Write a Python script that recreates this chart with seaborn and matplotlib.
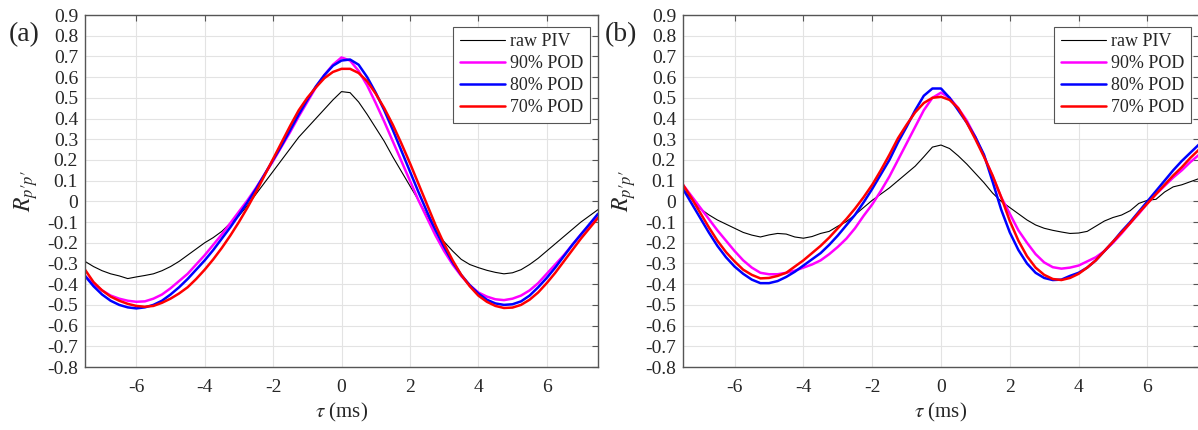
import numpy as np
import pandas as pd
import seaborn as sns
import matplotlib.pyplot as plt

# time lag grid (ms)
tau = [-7.5, -7.25, -7.0, -6.75, -6.5, -6.25, -6.0, -5.75, -5.5, -5.25, -5.0,
       -4.75, -4.5, -4.25, -4.0, -3.75, -3.5, -3.25, -3.0, -2.75, -2.5,
       -2.25, -2.0, -1.75, -1.5, -1.25, -1.0, -0.75, -0.5, -0.25, 0.0,
       0.25, 0.5, 0.75, 1.0, 1.25, 1.5, 1.75, 2.0, 2.25, 2.5,
       2.75, 3.0, 3.25, 3.5, 3.75, 4.0, 4.25, 4.5, 4.75, 5.0,
       5.25, 5.5, 5.75, 6.0, 6.25, 6.5, 6.75, 7.0, 7.25, 7.5]

# panel (a)
a_raw = [-0.29, -0.315, -0.335, -0.35, -0.36, -0.373, -0.365, -0.358, -0.35, -0.335, -0.315,
         -0.29, -0.26, -0.23, -0.20, -0.175, -0.145, -0.105, -0.07, -0.02, 0.035,
         0.09, 0.145, 0.20, 0.255, 0.31, 0.355, 0.40, 0.445, 0.49, 0.53,
         0.525, 0.48, 0.42, 0.355, 0.29, 0.215, 0.145, 0.075, 0.005, -0.07,
         -0.14, -0.195, -0.24, -0.28, -0.305, -0.32, -0.333, -0.343, -0.35, -0.345,
         -0.33, -0.305, -0.275, -0.24, -0.205, -0.17, -0.135, -0.10, -0.07, -0.04]
a_90 = [-0.36, -0.40, -0.43, -0.455, -0.47, -0.48, -0.485, -0.483, -0.47, -0.45, -0.42,
        -0.385, -0.35, -0.305, -0.26, -0.21, -0.16, -0.105, -0.05, 0.005, 0.065,
        0.13, 0.195, 0.265, 0.335, 0.41, 0.48, 0.55, 0.61, 0.66, 0.695,
        0.68, 0.63, 0.56, 0.475, 0.385, 0.29, 0.195, 0.10, 0.005, -0.08,
        -0.165, -0.24, -0.305, -0.36, -0.405, -0.44, -0.46, -0.473, -0.477, -0.47,
        -0.455, -0.43, -0.395, -0.35, -0.305, -0.26, -0.21, -0.16, -0.115, -0.07]
a_80 = [-0.36, -0.41, -0.45, -0.48, -0.50, -0.512, -0.517, -0.512, -0.50, -0.48, -0.45,
        -0.415, -0.375, -0.33, -0.285, -0.235, -0.18, -0.125, -0.065, -0.005, 0.06,
        0.13, 0.20, 0.27, 0.345, 0.42, 0.49, 0.555, 0.61, 0.655, 0.68,
        0.685, 0.66, 0.60, 0.525, 0.44, 0.345, 0.245, 0.145, 0.045, -0.05,
        -0.14, -0.22, -0.295, -0.355, -0.405, -0.445, -0.475, -0.493, -0.50, -0.497,
        -0.483, -0.455, -0.415, -0.37, -0.32, -0.265, -0.21, -0.16, -0.11, -0.06]
a_70 = [-0.33, -0.39, -0.43, -0.46, -0.48, -0.495, -0.505, -0.509, -0.505, -0.49, -0.47,
        -0.445, -0.415, -0.375, -0.33, -0.28, -0.225, -0.165, -0.10, -0.03, 0.045,
        0.125, 0.205, 0.285, 0.365, 0.44, 0.50, 0.55, 0.595, 0.625, 0.64,
        0.64, 0.62, 0.58, 0.52, 0.45, 0.37, 0.28, 0.185, 0.085, -0.015,
        -0.115, -0.205, -0.285, -0.355, -0.41, -0.455, -0.485, -0.505, -0.515, -0.513,
        -0.50, -0.475, -0.44, -0.395, -0.345, -0.29, -0.235, -0.18, -0.13, -0.08]

# panel (b)
b_raw = [0.06, 0.01, -0.035, -0.065, -0.09, -0.11, -0.13, -0.15, -0.163, -0.172, -0.162,
         -0.155, -0.158, -0.172, -0.178, -0.17, -0.155, -0.145, -0.12, -0.098, -0.065,
         -0.03, 0.005, 0.035, 0.065, 0.10, 0.135, 0.17, 0.215, 0.262, 0.272,
         0.255, 0.22, 0.18, 0.135, 0.09, 0.04, 0.0, -0.03, -0.06, -0.09,
         -0.114, -0.13, -0.14, -0.148, -0.155, -0.153, -0.145, -0.12, -0.095, -0.078,
         -0.066, -0.045, -0.01, 0.005, 0.01, 0.045, 0.07, 0.08, 0.095, 0.11]
b_90 = [0.08, 0.025, -0.03, -0.085, -0.14, -0.19, -0.24, -0.285, -0.32, -0.345, -0.352,
        -0.352, -0.345, -0.335, -0.32, -0.305, -0.285, -0.255, -0.22, -0.18, -0.13,
        -0.07, -0.015, 0.05, 0.12, 0.20, 0.28, 0.36, 0.44, 0.50, 0.525,
        0.50, 0.45, 0.39, 0.31, 0.22, 0.12, 0.02, -0.06, -0.14, -0.20,
        -0.255, -0.295, -0.318, -0.325, -0.32, -0.31, -0.29, -0.27, -0.24, -0.20,
        -0.155, -0.105, -0.06, -0.01, 0.035, 0.075, 0.115, 0.15, 0.19, 0.225]
b_80 = [0.06, -0.01, -0.08, -0.15, -0.215, -0.27, -0.315, -0.35, -0.378, -0.395, -0.395,
        -0.385, -0.365, -0.34, -0.31, -0.28, -0.25, -0.21, -0.165, -0.115, -0.065,
        -0.005, 0.06, 0.13, 0.20, 0.285, 0.36, 0.44, 0.51, 0.545, 0.545,
        0.50, 0.44, 0.38, 0.31, 0.225, 0.095, -0.04, -0.15, -0.235, -0.30,
        -0.345, -0.37, -0.38, -0.378, -0.36, -0.345, -0.32, -0.285, -0.24, -0.195,
        -0.145, -0.10, -0.05, 0.0, 0.05, 0.10, 0.15, 0.195, 0.235, 0.275]
b_70 = [0.08, 0.015, -0.055, -0.125, -0.19, -0.245, -0.29, -0.33, -0.355, -0.372, -0.37,
        -0.36, -0.345, -0.315, -0.285, -0.25, -0.215, -0.175, -0.13, -0.085, -0.035,
        0.02, 0.08, 0.15, 0.225, 0.305, 0.37, 0.43, 0.475, 0.50, 0.505,
        0.49, 0.45, 0.38, 0.30, 0.215, 0.125, 0.02, -0.095, -0.19, -0.265,
        -0.32, -0.355, -0.375, -0.38, -0.37, -0.35, -0.32, -0.285, -0.24, -0.195,
        -0.15, -0.105, -0.055, -0.01, 0.035, 0.08, 0.125, 0.165, 0.21, 0.25]

labels = ['raw PIV', '90% POD', '80% POD', '70% POD']
colors = ['black', '#ff00ff', '#0000ff', '#ff0000']
widths = [0.8, 1.8, 1.8, 1.8]
yticks = [-0.8, -0.7, -0.6, -0.5, -0.4, -0.3, -0.2, -0.1, 0, 0.1, 0.2, 0.3, 0.4, 0.5, 0.6, 0.7, 0.8, 0.9]
xticks = [-6, -4, -2, 0, 2, 4, 6]

sns.set_style("whitegrid")
plt.rcParams['font.family'] = ['Liberation Serif', 'DejaVu Serif']
plt.rcParams['mathtext.fontset'] = 'stix'
plt.rcParams['axes.unicode_minus'] = False

fig = plt.figure(figsize=(11.98, 4.30), dpi=100)
rects = [[85 / 1198, 63 / 430, 513 / 1198, 352 / 430],
         [683 / 1198, 63 / 430, 516 / 1198, 352 / 430]]
panels = [[a_raw, a_90, a_80, a_70], [b_raw, b_90, b_80, b_70]]
tags = ['(a)', '(b)']
tag_x = [9 / 1198, 605 / 1198]

for rect, series, tag, tx in zip(rects, panels, tags, tag_x):
    ax = fig.add_axes(rect)
    for vals, lab, col, lw in zip(series, labels, colors, widths):
        df = pd.DataFrame({'tau': tau, 'R': vals})
        sns.lineplot(data=df, x='tau', y='R', ax=ax, color=col, linewidth=lw, label=lab)
    ax.set_xlim(-7.5, 7.5)
    ax.set_ylim(-0.8, 0.9)
    ax.set_xticks(xticks)
    ax.set_yticks(yticks)
    ax.set_yticklabels(['0' if v == 0 else f'{v:.1f}' for v in yticks])
    ax.set_xticklabels([str(v) for v in xticks])
    ax.grid(True, color='#e3e3e3', linewidth=0.8)
    for s in ax.spines.values():
        s.set_color('#555555')
        s.set_linewidth(1.0)
    ax.tick_params(direction='in', length=4, width=0.8, color='#555555',
                   top=True, right=True, labelsize=14, labelcolor='#262626')
    ax.tick_params(axis='x', pad=9)
    ax.tick_params(axis='y', pad=5)
    ax.set_xlabel(r'$\tau$ (ms)', fontsize=15, labelpad=3)
    ax.set_ylabel(r"$R_{p\prime p\prime}$", fontsize=17, labelpad=5)
    leg = ax.legend(loc='upper right', bbox_to_anchor=(1 - 8 / 513, 1 - 12 / 352),
                    borderaxespad=0, fontsize=13, frameon=True, fancybox=False,
                    framealpha=1, edgecolor='#555555', handlelength=2.5,
                    labelspacing=0.28, borderpad=0.35, handletextpad=0.3)
    leg.get_frame().set_linewidth(0.8)
    fig.text(tx, 1 - 35 / 430, tag, fontsize=20, va='center', ha='left')

fig.savefig('out.png', dpi=100)
